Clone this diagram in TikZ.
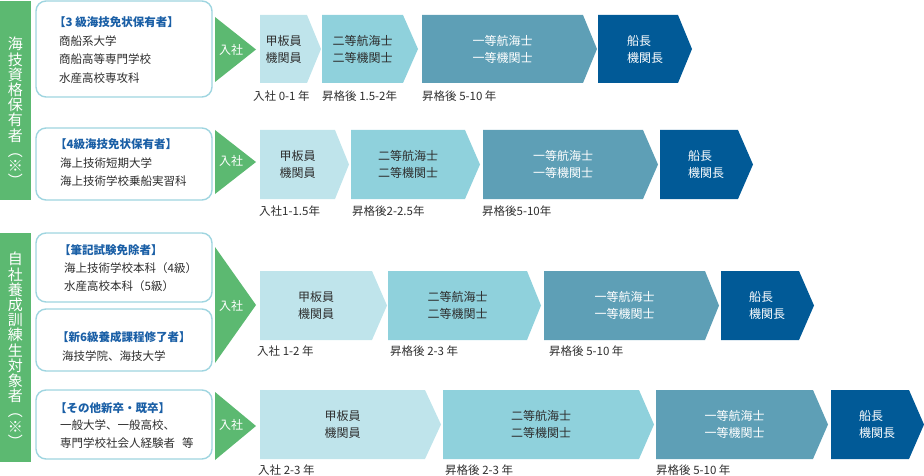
\documentclass[tikz,border=0pt]{standalone}
\usepackage{fontspec}
\setmainfont{Noto Sans CJK JP}
\definecolor{grn}{HTML}{5CB971}
\definecolor{bord}{HTML}{9FD5E0}
\definecolor{cA}{HTML}{BFE4EB}
\definecolor{cB}{HTML}{8FD1DC}
\definecolor{cC}{HTML}{5E9FB6}
\definecolor{cD}{HTML}{015A97}
\definecolor{hblue}{HTML}{1A5FA6}
\definecolor{txt}{HTML}{2E2E2E}
\newcommand{\chev}[7]{%
  \fill[#7] (#2,#5) -- (#3,#5) -- (#4,{(#5+#6)/2}) -- (#3,#6) -- (#2,#6) -- cycle;
  \coordinate (#1) at ({(#2+#3)/2},{(#5+#6)/2});}
\begin{document}
\begin{tikzpicture}[x=1pt,y=-1pt,
  bar/.style={fill=grn},
  srcbox/.style={draw=bord,line width=1.4pt,fill=white,rounded corners=10pt},
  srctext/.style={anchor=north west,align=left,inner sep=0pt,text=txt,font=\fontsize{11.5}{18.5}\selectfont},
  vtext/.style={anchor=north,align=center,inner sep=0pt,text=white,font=\fontsize{15}{15.2}\selectfont},
  entry/.style={fill=grn},
  entrytext/.style={text=white,font=\fontsize{12}{14}\selectfont,inner sep=0pt},
  ctext/.style={align=center,inner sep=0pt,font=\fontsize{12}{17}\selectfont},
  ltext/.style={align=left,inner sep=0pt,font=\fontsize{12}{17}\selectfont,text=white},
  dark/.style={text=txt},
  yrs/.style={anchor=west,inner sep=0pt,text=txt,font=\fontsize{11.5}{14}\selectfont}]
\useasboundingbox (0,0) rectangle (924,476);
% left bars
\fill[bar] (0,1) rectangle (31,200);
\fill[bar] (0,233) rectangle (31,462);
\node[vtext] (v1) at (15.5,37) {海\\技\\資\\格\\保\\有\\者\\︵\\※\\︶};
\node[vtext] (v2) at (15.5,252) {自\\社\\養\\成\\訓\\練\\生\\対\\象\\者\\︵\\※\\︶};
% source boxes
\draw[srcbox] (36,1) rectangle (212,97);
\draw[srcbox] (36,128) rectangle (212,200);
\draw[srcbox] (36,233) rectangle (212,302);
\draw[srcbox] (36,309) rectangle (212,371);
\draw[srcbox] (36,390) rectangle (212,459);
\node[srctext] (s1) at (59,16.4) {\kern-5pt{\color{hblue}\bfseries 【3 級海技免状保有者】}\\商船系大学\\商船高等専門学校\\水産高校専攻科};
\node[srctext] (s2) at (60,138.4) {\kern-5pt{\color{hblue}\bfseries 【4級海技免状保有者】}\\海上技術短期大学\\海上技術学校乗船実習科};
\node[srctext,font=\fontsize{11.5}{18}\selectfont] (s3) at (64,244.4) {\kern-5pt{\color{hblue}\bfseries 【筆記試験免除者】}\\海上技術学校本科（4級）\\水産高校本科（5級）};
\node[srctext] (s4) at (62,331.4) {\kern-5pt{\color{hblue}\bfseries 【新6級養成課程修了者】}\\海技学院、海技大学};
\node[srctext,font=\fontsize{11.5}{17.5}\selectfont] (s5) at (60,402.4) {\kern-5pt{\color{hblue}\bfseries 【その他新卒・既卒】}\\一般大学、一般高校、\\専門学校社会人経験者\hspace{0.6em}等};
% entry triangles
\fill[entry] (215,17) -- (256,49.5) -- (215,82) -- cycle;
\fill[entry] (215,130) -- (256,162) -- (215,194) -- cycle;
\fill[entry] (215,247) -- (256,305) -- (215,363) -- cycle;
\fill[entry] (215,392) -- (256,426) -- (215,460) -- cycle;
\node[entrytext] (e1) at (231,49.5) {入社};
\node[entrytext] (e2) at (231,161) {入社};
\node[entrytext] (e3) at (231,306) {入社};
\node[entrytext] (e4) at (231,425) {入社};
% row 1
\chev{r1a}{260}{307}{321}{15}{83}{cA}
\chev{r1b}{322}{403}{418}{15}{83}{cB}
\chev{r1c}{422}{583}{597}{15}{83}{cC}
\chev{r1d}{598}{678}{692}{15}{83}{cD}
% row 2
\chev{r2a}{260}{335}{349}{130}{199}{cA}
\chev{r2b}{351}{465}{480}{130}{199}{cB}
\chev{r2c}{483}{643}{658}{130}{199}{cC}
\chev{r2d}{660}{738}{753}{130}{199}{cD}
% row 3
\chev{r3a}{260}{372}{387}{271}{340}{cA}
\chev{r3b}{388}{527}{541}{271}{340}{cB}
\chev{r3c}{544}{705}{719}{271}{340}{cC}
\chev{r3d}{721}{799}{814}{271}{340}{cD}
% row 4
\chev{r4a}{260}{425}{441}{390}{459}{cA}
\chev{r4b}{443}{639}{654}{390}{459}{cB}
\chev{r4c}{656}{813}{828}{390}{459}{cC}
\chev{r4d}{831}{909}{924}{390}{459}{cD}
% chevron texts
\foreach \r in {1,2,3,4}{
  \node[ctext,dark] (t\r a) at (r\r a) {甲板員\\機関員};
  \node[ctext,dark] (t\r b) at (r\r b) {二等航海士\\二等機関士};
  \node[ctext,text=white] (t\r c) at (r\r c) {一等航海士\\一等機関士};
  \node[ltext] (t\r d) at ([xshift=7pt]r\r d) {船長\\機関長};
}
% year labels
\node[yrs] (y1a) at (253,96) {入社 0-1 年};
\node[yrs] (y1b) at (322,96) {昇格後 1.5-2年};
\node[yrs] (y1c) at (422,96) {昇格後 5-10 年};
\node[yrs] (y2a) at (259,211) {入社1-1.5年};
\node[yrs] (y2b) at (352,211) {昇格後2-2.5年};
\node[yrs] (y2c) at (482,211) {昇格後5-10年};
\node[yrs] (y3a) at (257,351) {入社 1-2 年};
\node[yrs] (y3b) at (390,351) {昇格後 2-3 年};
\node[yrs] (y3c) at (549,351) {昇格後 5-10 年};
\node[yrs] (y4a) at (258,470) {入社 2-3 年};
\node[yrs] (y4b) at (445,470) {昇格後 2-3 年};
\node[yrs] (y4c) at (656,470) {昇格後 5-10 年};
\end{tikzpicture}
\end{document}
